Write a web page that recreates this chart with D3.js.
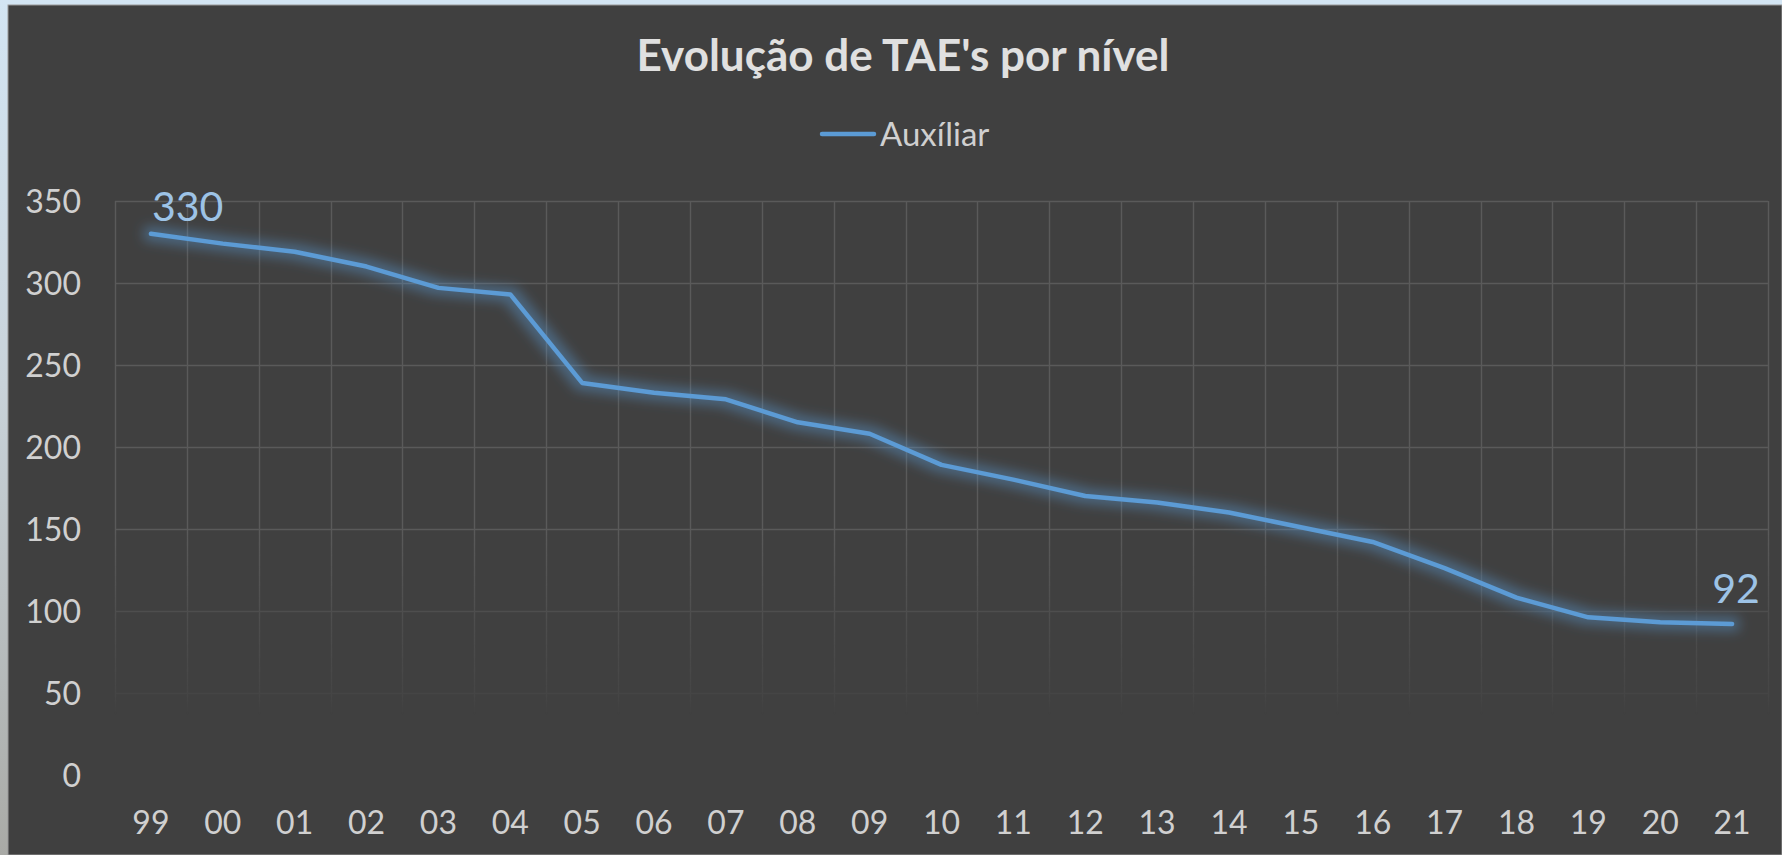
<!DOCTYPE html>
<html>
<head>
<meta charset="utf-8">
<script src="https://cdn.jsdelivr.net/npm/d3@7"></script>
<style>
  html, body { margin: 0; padding: 0; overflow: hidden; background: #d3e5f3; }
  svg { display: block; }
</style>
</head>
<body>
<div id="chart"></div>
<script>
const chartTitle = "Evolução de TAE's por nível";
const seriesName = "Auxíliar";
const years = ["99", "00", "01", "02", "03", "04", "05", "06", "07", "08", "09", "10",
               "11", "12", "13", "14", "15", "16", "17", "18", "19", "20", "21"];
const auxiliar = [330, 324, 319, 310, 297, 293, 239, 233, 229, 215, 208, 189,
                  180, 170, 166, 160, 151, 142, 126, 108, 96, 93, 92];
const yTicks = [0, 50, 100, 150, 200, 250, 300, 350];

const W = 1782, H = 855;
const margin = { top: 201, right: 14, bottom: 80, left: 115 };
const lineColor = "#5b9bd5";

const svg = d3.select("#chart")
    .append("svg")
    .attr("width", W)
    .attr("height", H);

const defs = svg.append("defs");

// soft glow around the series line
const glow = defs.append("filter")
    .attr("id", "glow")
    .attr("x", "-10%").attr("y", "-30%")
    .attr("width", "120%").attr("height", "160%");
glow.append("feMorphology").attr("in", "SourceAlpha").attr("operator", "dilate").attr("radius", 5).attr("result", "fat");
glow.append("feGaussianBlur").attr("in", "fat").attr("stdDeviation", 6).attr("result", "blur");
glow.append("feFlood").attr("flood-color", lineColor).attr("flood-opacity", 0.42);
glow.append("feComposite").attr("in2", "blur").attr("operator", "in").attr("result", "halo");
const merge = glow.append("feMerge");
merge.append("feMergeNode").attr("in", "halo");
merge.append("feMergeNode").attr("in", "SourceGraphic");

// gridlines fade out toward the bottom of the plot
const fade = defs.append("linearGradient")
    .attr("id", "fade")
    .attr("gradientUnits", "userSpaceOnUse")
    .attr("x1", 0).attr("x2", 0)
    .attr("y1", 530).attr("y2", 715);
fade.append("stop").attr("offset", 0).attr("stop-color", "#fff").attr("stop-opacity", 1);
fade.append("stop").attr("offset", 0.45).attr("stop-color", "#fff").attr("stop-opacity", 0.55);
fade.append("stop").attr("offset", 0.9).attr("stop-color", "#fff").attr("stop-opacity", 0.2);
fade.append("stop").attr("offset", 1).attr("stop-color", "#fff").attr("stop-opacity", 0);
defs.append("mask").attr("id", "gridMask")
    .append("rect")
    .attr("x", 0).attr("y", 0).attr("width", W).attr("height", H)
    .attr("fill", "url(#fade)");

// page behind the chart (photo strip on the left)
const side = defs.append("linearGradient")
    .attr("id", "side").attr("x1", 0).attr("x2", 0).attr("y1", 0).attr("y2", 1);
side.append("stop").attr("offset", 0).attr("stop-color", "#d3e5f3");
side.append("stop").attr("offset", 0.45).attr("stop-color", "#c9d3da");
side.append("stop").attr("offset", 1).attr("stop-color", "#a9aaa6");
svg.append("rect").attr("x", 0).attr("y", 0).attr("width", 8).attr("height", H).attr("fill", "url(#side)");

// chart area
svg.append("rect")
    .attr("x", 8).attr("y", 5)
    .attr("width", W - 8).attr("height", H - 5)
    .attr("fill", "#404040")
    .attr("stroke", "#9a9a9a")
    .attr("stroke-width", 1);

const x = d3.scaleBand()
    .domain(years)
    .range([margin.left, W - margin.right]);

const y = d3.scaleLinear()
    .domain([0, 350])
    .range([774.7, margin.top]);

// grid
const grid = svg.append("g").attr("mask", "url(#gridMask)");
const bounds = d3.range(years.length + 1).map(i => margin.left + i * x.bandwidth());

grid.append("g")
    .selectAll("line")
    .data(yTicks)
    .join("line")
    .attr("x1", margin.left)
    .attr("x2", W - margin.right)
    .attr("y1", d => Math.round(y(d)) + 0.5)
    .attr("y2", d => Math.round(y(d)) + 0.5)
    .attr("stroke", "#5a5a5a")
    .attr("stroke-width", 1.4);

grid.append("g")
    .selectAll("line")
    .data(bounds)
    .join("line")
    .attr("x1", d => Math.round(d) + 0.5)
    .attr("x2", d => Math.round(d) + 0.5)
    .attr("y1", y(350))
    .attr("y2", y(0))
    .attr("stroke", "#5a5a5a")
    .attr("stroke-width", 1.4);

// axes
const labelFont = "Lato, 'Open Sans', sans-serif";

const yAxis = svg.append("g")
    .attr("transform", `translate(${margin.left - 34},0)`)
    .call(d3.axisLeft(y).tickValues(yTicks).tickSize(0).tickPadding(0));
yAxis.select(".domain").remove();
yAxis.selectAll("text")
    .attr("fill", "#d0d0d0")
    .attr("font-family", labelFont)
    .attr("font-size", 32)
    .attr("dy", "0.36em");

const xAxis = svg.append("g")
    .attr("transform", `translate(0,${y(0)})`)
    .call(d3.axisBottom(x).tickSize(0).tickPadding(0));
xAxis.select(".domain").remove();
xAxis.selectAll("text")
    .attr("fill", "#d0d0d0")
    .attr("font-family", labelFont)
    .attr("font-size", 32)
    .attr("dy", null)
    .attr("y", 59);

// series line
const cx = d => x(d) + x.bandwidth() / 2;
const line = d3.line()
    .x((d, i) => cx(years[i]))
    .y(d => y(d));

svg.append("path")
    .datum(auxiliar)
    .attr("d", line)
    .attr("fill", "none")
    .attr("stroke", lineColor)
    .attr("stroke-width", 4.5)
    .attr("stroke-linejoin", "round")
    .attr("stroke-linecap", "round")
    .attr("filter", "url(#glow)");

// data labels on first and last point
const first = 0, last = auxiliar.length - 1;
svg.append("text")
    .attr("x", cx(years[first]) + 1)
    .attr("y", y(auxiliar[first]) - 13)
    .attr("fill", "#9dc3e6")
    .attr("font-family", labelFont)
    .attr("font-size", 41)
    .text(auxiliar[first]);
svg.append("text")
    .attr("x", cx(years[last]) + 4)
    .attr("y", y(auxiliar[last]) - 21)
    .attr("text-anchor", "middle")
    .attr("fill", "#9dc3e6")
    .attr("font-family", labelFont)
    .attr("font-size", 41)
    .text(auxiliar[last]);

// title
svg.append("text")
    .attr("x", 903)
    .attr("y", 71)
    .attr("text-anchor", "middle")
    .attr("fill", "#e0e0e0")
    .attr("font-family", labelFont)
    .attr("font-weight", "bold")
    .attr("font-size", 44)
    .text(chartTitle);

// legend
const legend = svg.append("g");
legend.append("line")
    .attr("x1", 822).attr("x2", 874)
    .attr("y1", 134).attr("y2", 134)
    .attr("stroke", lineColor)
    .attr("stroke-width", 4.5)
    .attr("stroke-linecap", "round");
legend.append("text")
    .attr("x", 880)
    .attr("y", 146)
    .attr("fill", "#d0d0d0")
    .attr("font-family", labelFont)
    .attr("font-size", 33)
    .text(seriesName);
</script>
</body>
</html>
